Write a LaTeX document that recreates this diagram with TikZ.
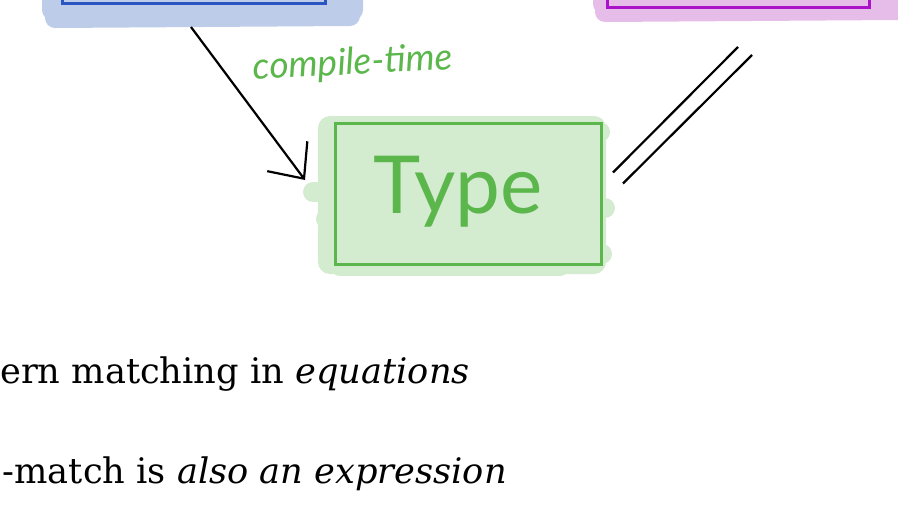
\documentclass[tikz,border=0pt]{standalone}
\usepackage{fontspec}
\setmainfont{DejaVu Serif}
\newfontfamily\handfont{Lato}
\usetikzlibrary{arrows.meta, positioning}

\definecolor{srcline}{HTML}{2B55C2}
\definecolor{srcfill}{HTML}{BDCCE8}
\definecolor{runline}{HTML}{A912C9}
\definecolor{runfill}{HTML}{E6BDE8}
\definecolor{typeline}{HTML}{5BB64B}
\definecolor{typefill}{HTML}{D3EBCE}

\begin{document}
\begin{tikzpicture}[
                    x=1pt, y=-1pt,
                    box/.style={rectangle, draw, line width=2.6pt, inner sep=0pt},
                    brush/.style={line width=20pt, line cap=round},
                    arrow/.style={-{Straight Barb[length=28pt, width=50pt]}, line width=2.2pt},
                    link/.style={line width=2.2pt},
                    label/.style={font=\handfont\itshape\fontsize{37}{42}\selectfont, text=typeline}
                ]
                \useasboundingbox (0,0) rectangle (898,512);
                \clip (0,0) rectangle (898,512);

                % highlights
                \fill[srcfill, rounded corners=10pt] (42,-20) rectangle (363,20);
                \draw[brush, srcfill] (55,18) -- (350,16);
                \fill[runfill, rounded corners=10pt] (593,-20) rectangle (910,14);
                \draw[brush, runfill] (605,12) -- (898,10);
                \fill[typefill, rounded corners=12pt] (318,116) rectangle (606,274);
                \foreach \xa/\xb/\yy in {332/400/134, 332/400/160, 313/400/192, 326/400/219, 330/420/236,
                                         560/600/132, 560/605/208, 560/602/254, 340/560/266}
                    \draw[brush, typefill] (\xa,\yy) -- (\xb,\yy);

                % boxes
                \node[box, draw=srcline, minimum width=263pt, minimum height=80pt, anchor=south west] (source) at (61,5) {};
                \node[box, draw=runline, minimum width=262pt, minimum height=80pt, anchor=south west] (runtime) at (606,9) {};
                \node[box, draw=typeline, minimum width=266pt, minimum height=141pt, anchor=north west] (type) at (334,122) {};
                \node[font=\handfont\fontsize{80}{84}\selectfont, text=typeline] (typetext) at ([xshift=-10pt, yshift=2pt]type.center) {Type};

                % connectors
                \coordinate (src-out) at (191,27);
                \coordinate (type-in) at (305,180);
                \coordinate (type-out) at (618,178);
                \coordinate (run-in) at (745,51);
                \draw[arrow] (src-out) -- (type-in);
                \draw[link] ([shift={(-5,-5.5)}]type-out) -- ([shift={(-7,-4)}]run-in);
                \draw[link] ([shift={(5,5.5)}]type-out) -- ([shift={(7,4)}]run-in);
                \node[label, rotate=3] (ct) at (353,64) {compile-time};

                % bullet text
                \node[font=\fontsize{35.2}{40}\selectfont, anchor=base east, inner sep=0pt] (line1) at (470,383) {ern matching in \textit{equations}};
                \node[font=\fontsize{35.2}{40}\selectfont, anchor=base east, inner sep=0pt] (line2) at (507,483) {-match is \textit{also an expression}};
                \end{tikzpicture}
\end{document}
